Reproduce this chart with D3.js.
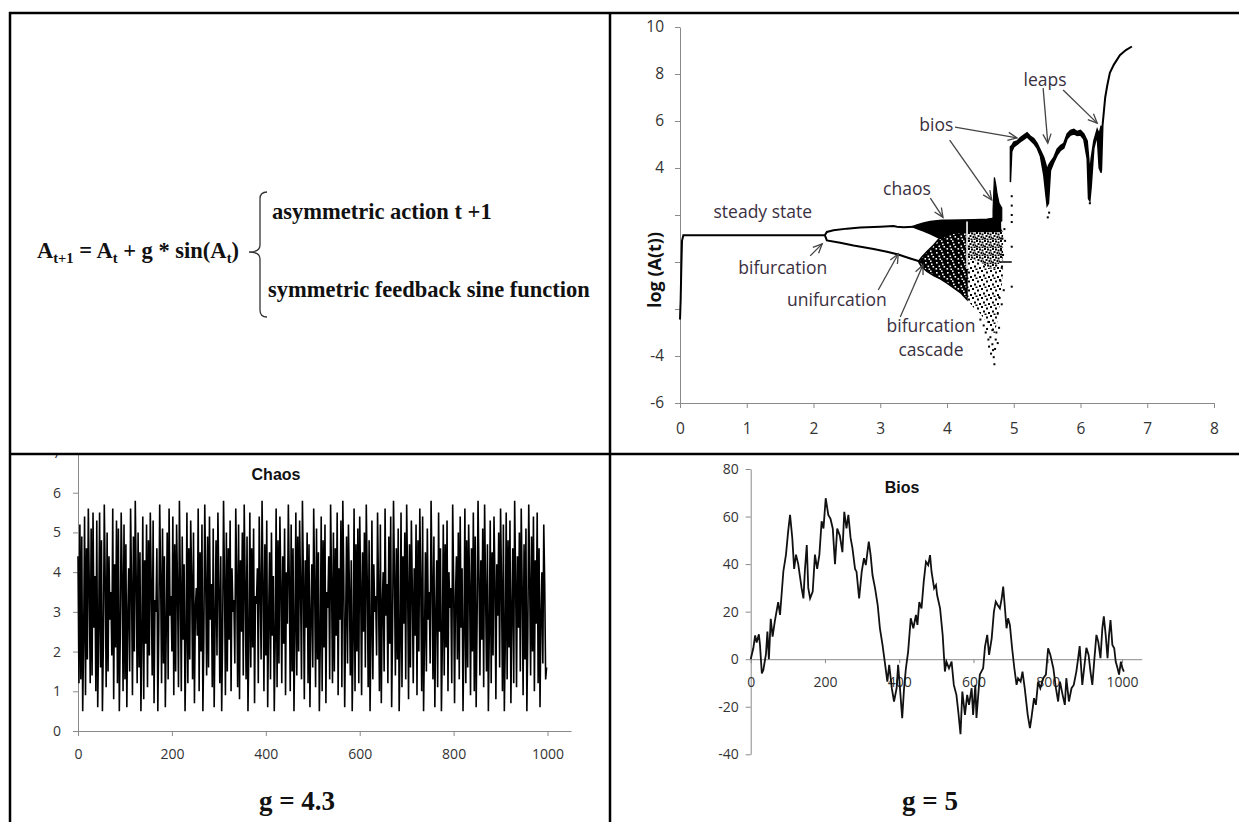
<!DOCTYPE html>
<html>
<head>
<meta charset="utf-8">
<script src="https://cdn.jsdelivr.net/npm/d3@7/dist/d3.min.js"></script>
<style>
  body { margin: 0; background: #fff; }
  .domain, .tick line { stroke: #8a8a8a; }
</style>
</head>
<body>
<div id="chart"></div>
<script>
// ---- bifurcation diagram (log A vs g) ----
var steadyG = [0.0, 0.01, 0.015, 0.02, 0.03, 0.05, 0.6, 1.4, 2.17];
var steadyV = [-2.45, -1.6, -0.9, -0.2, 0.9, 1.14, 1.14, 1.14, 1.14];

var upperG = [2.17, 2.2, 2.3, 2.5, 2.7, 3.0, 3.2, 3.25, 3.35, 3.5];
var upperV = [1.14, 1.28, 1.35, 1.42, 1.47, 1.5, 1.53, 1.5, 1.48, 1.5];

var lowerG = [2.17, 2.2, 2.4, 2.6, 2.9, 3.1, 3.27, 3.45, 3.62];
var lowerV = [1.14, 0.92, 0.82, 0.7, 0.55, 0.44, 0.32, 0.15, 0.0];

// solid upper part of the chaotic band
var bandG  = [3.48, 3.55, 3.65, 3.75, 3.85, 3.92, 4.0, 4.2, 4.4, 4.6, 4.7, 4.8];
var bandHi = [1.5, 1.58, 1.66, 1.72, 1.76, 1.78, 1.78, 1.79, 1.8, 1.82, 1.86, 1.7];
var bandLo = [1.5, 1.42, 1.32, 1.2, 1.06, 0.98, 1.2, 1.25, 1.3, 1.3, 1.3, 1.3];

// speckled lower part
var coreG  = [3.58, 3.62, 3.7, 3.8, 3.9, 4.0, 4.1, 4.2, 4.3];
var coreHi = [0.05, 0.2, 0.45, 0.72, 1.05, 1.3, 1.3, 1.3, 1.3];
var coreLo = [-0.02, -0.2, -0.4, -0.58, -0.72, -0.9, -1.1, -1.3, -1.6];

// tail beyond the window
var tailG  = [4.3, 4.4, 4.5, 4.6, 4.65, 4.7, 4.75, 4.8, 4.84];
var tailHi = [1.3, 1.3, 1.3, 1.3, 1.3, 1.4, 1.5, 1.5, 1.3];
var tailLo = [-1.6, -1.95, -2.2, -2.6, -2.9, -3.2, -2.6, -1.6, -0.5];
var tailMid = [0.2, 0.1, 0.0, -0.2, -0.3, -0.3, -0.2, 0.0, 0.3];

var windowG = [4.3];

var sparseDots = [[4.5,-2.45],[4.55,-2.7],[4.58,-3.0],[4.6,-2.85],[4.62,-3.3],[4.63,-3.6],[4.65,-3.2],
                  [4.66,-3.9],[4.68,-3.5],[4.7,-4.05],[4.71,-4.35],[4.72,-3.7],[4.74,-3.0],[4.76,-2.2],
                  [4.78,-1.5],[4.8,-0.8],[4.82,-0.25],[4.81,0.5],[4.83,1.0],[4.78,-2.8],[4.76,-3.45],
                  [4.82,-1.8],[4.84,0.3],[4.97,2.0],[4.97,1.7],[4.97,2.4],[4.97,0.65],[4.97,-1.05],
                  [4.97,2.8],[4.62,-2.55],[4.68,-2.9],[5.51,1.9],[5.53,2.1],[6.14,2.5],
                  [4.86,1.4],[4.85,-1.2],[4.87,0.9],[4.73,-3.3],[4.69,-3.75]];

var dashG = [4.8, 4.97];
var dashV = [0.0, 0.0];

var spikeG  = [4.69, 4.71, 4.73, 4.75, 4.78, 4.82];
var spikeHi = [2.2, 3.6, 3.3, 2.9, 2.5, 2.3];
var spikeLo = [1.8, 1.8, 1.8, 1.8, 1.7, 1.75];

var biosG  = [4.95, 4.97, 5.0, 5.05, 5.1, 5.15, 5.2, 5.25, 5.3, 5.35, 5.4, 5.45,
              5.48, 5.5, 5.52, 5.55, 5.6, 5.65, 5.7, 5.75, 5.8, 5.85, 5.9, 5.95, 6.0, 6.05, 6.1, 6.12,
              6.14, 6.16, 6.2, 6.25, 6.28, 6.31];
var biosHi = [4.9, 4.95, 5.1, 5.15, 5.3, 5.4, 5.5, 5.35, 5.25, 5.05, 4.75, 4.45,
              4.15, 3.9, 4.1, 4.25, 4.45, 4.8, 4.95, 5.05, 5.45, 5.6, 5.65, 5.55, 5.6, 5.45, 5.15, 4.5,
              3.8, 4.4, 5.15, 5.65, 5.45, 5.8];
var biosLo = [3.4, 4.7, 4.9, 5.0, 5.12, 5.22, 5.32, 5.18, 5.05, 4.85, 4.5, 3.7,
              2.9, 2.4, 2.5, 3.9, 4.25, 4.55, 4.75, 4.85, 5.25, 5.4, 5.45, 5.38, 5.4, 5.22, 4.4, 2.7,
              2.6, 3.2, 4.85, 5.4, 4.0, 3.8];

var leapG = [6.31, 6.33, 6.35, 6.37, 6.4, 6.44, 6.5, 6.59, 6.68, 6.77];
var leapV = [3.9, 5.8, 6.4, 7.0, 7.5, 8.05, 8.4, 8.8, 9.02, 9.17];

var bifXTicks = [0, 1, 2, 3, 4, 5, 6, 7, 8];
var bifYTicks = [-6, -4, -2, 0, 2, 4, 6, 8, 10];
var bifYHidden = [-2, 0, 2];

// ---- chaos series, g = 4.3 (one value every 2 steps) ----
var chaosValues = [
  4.4, 1.2, 5.2, 1.3, 4.9, 0.5, 2.3, 5.4, 0.9, 4.6,
  1.8, 5.6, 3.7, 1.2, 5.1, 1.4, 5.5, 2.6, 3.9, 1.0,
  5.3, 0.6, 2.5, 5.5, 1.6, 4.8, 0.5, 2.2, 5.7, 3.8,
  1.1, 5.0, 1.5, 4.4, 2.8, 3.5, 1.9, 5.6, 0.8, 4.2,
  2.1, 5.3, 1.2, 5.1, 0.5, 2.4, 5.5, 3.9, 1.0, 5.2,
  1.3, 4.7, 0.6, 2.9, 4.1, 1.5, 5.6, 3.7, 0.9, 4.9,
  2.0, 5.8, 3.8, 1.2, 5.0, 1.6, 4.5, 0.5, 2.3, 5.4,
  0.8, 4.3, 2.2, 5.2, 1.1, 4.8, 1.9, 5.5, 3.6, 1.4,
  5.3, 0.7, 3.3, 3.0, 4.6, 0.5, 2.5, 5.7, 3.9, 1.2,
  5.1, 1.7, 4.4, 0.6, 2.6, 5.0, 1.3, 5.6, 2.9, 3.4,
  2.0, 5.4, 0.9, 4.7, 1.5, 5.2, 3.6, 1.1, 5.8, 3.7,
  1.0, 4.9, 2.3, 4.2, 0.5, 2.2, 5.5, 1.2, 4.6, 1.8,
  5.3, 3.9, 1.3, 5.0, 0.7, 3.1, 3.6, 2.4, 5.6, 1.0,
  4.5, 2.0, 5.2, 0.5, 2.3, 5.7, 3.8, 1.4, 4.9, 1.6,
  5.4, 2.8, 3.7, 1.1, 5.1, 0.6, 2.7, 4.8, 1.9, 5.5,
  3.6, 1.2, 4.4, 0.5, 2.4, 5.8, 3.8, 0.9, 5.0, 1.5,
  4.6, 2.3, 5.3, 1.0, 4.1, 3.0, 3.3, 1.7, 5.6, 3.9,
  1.1, 5.2, 0.8, 4.3, 2.5, 5.0, 1.4, 5.7, 3.7, 1.3,
  4.9, 0.5, 2.2, 5.5, 1.6, 4.6, 2.1, 5.1, 0.7, 3.4,
  3.2, 4.1, 1.2, 5.4, 3.6, 1.8, 5.8, 3.8, 1.0, 4.7,
  1.9, 5.3, 0.6, 2.8, 4.5, 1.3, 5.0, 2.4, 3.9, 0.5,
  2.3, 5.6, 1.1, 4.8, 1.7, 5.4, 3.7, 1.2, 4.4, 2.2,
  5.1, 0.9, 4.0, 2.7, 5.7, 3.8, 1.0, 5.2, 1.5, 4.6,
  0.5, 2.5, 5.5, 1.4, 4.9, 2.0, 5.3, 3.6, 1.3, 5.8,
  3.9, 0.8, 4.3, 2.6, 5.0, 1.2, 4.7, 0.6, 2.9, 4.2,
  1.6, 5.6, 3.7, 1.1, 5.1, 1.8, 4.5, 0.5, 2.2, 5.4,
  1.0, 4.8, 2.1, 5.2, 0.7, 3.5, 3.1, 4.4, 1.3, 5.7,
  3.8, 1.2, 5.0, 1.5, 4.6, 2.4, 5.5, 0.9, 4.1, 2.8,
  5.3, 1.1, 5.8, 3.9, 0.6, 2.7, 4.9, 1.7, 5.2, 3.6,
  1.4, 4.3, 0.5, 2.3, 5.6, 1.0, 4.7, 2.0, 5.1, 1.2,
  5.4, 3.7, 0.9, 4.5, 2.5, 5.0, 1.6, 5.7, 3.8, 1.1,
  4.8, 0.5, 2.4, 5.3, 1.3, 4.2, 3.0, 3.4, 1.9, 5.5,
  3.6, 1.0, 5.2, 0.7, 3.2, 4.0, 1.5, 5.6, 2.9, 3.7,
  1.2, 4.9, 2.2, 5.4, 0.6, 2.6, 5.8, 3.9, 1.4, 4.6,
  1.8, 5.1, 0.5, 2.1, 5.5, 1.1, 4.4, 2.7, 5.0, 1.3,
  5.7, 3.8, 0.8, 4.7, 1.6, 5.3, 3.6, 1.2, 4.1, 2.4,
  5.2, 0.9, 4.8, 2.0, 5.6, 3.7, 1.0, 5.4, 0.5, 2.3,
  4.5, 1.5, 5.1, 2.8, 3.5, 1.7, 5.8, 3.9, 1.3, 4.9,
  0.6, 2.9, 4.3, 1.1, 5.5, 2.5, 4.6, 0.5, 2.2, 5.2,
  1.4, 4.7, 2.1, 5.3, 1.0, 4.0, 3.1, 3.6, 1.2, 5.7,
  3.8, 0.7, 3.4, 4.4, 1.8, 5.0, 1.3, 5.4, 2.6, 4.1,
  0.5, 2.4, 5.6, 1.2, 4.8, 1.6, 5.2, 3.7, 0.9, 4.6,
  2.0, 5.5, 1.0, 4.9, 0.6, 2.8, 5.8, 3.9, 1.4, 4.3,
  2.3, 5.1, 1.1, 5.7, 3.6, 1.5, 4.7, 0.5, 2.5, 5.3,
  1.2, 4.5, 1.9, 5.4, 3.8, 0.8, 4.2, 2.9, 5.0, 1.6,
  5.6, 3.7, 1.0, 5.2, 0.5, 2.2, 5.5, 1.3, 4.8, 2.1,
  5.3, 0.7, 3.0, 4.6, 1.2, 5.8, 3.9, 1.1, 4.4, 2.6,
  5.0, 1.5, 5.6, 3.6, 0.9, 4.7, 1.8, 5.1, 0.5, 2.4,
  5.7, 3.8, 1.4, 4.9, 2.0, 5.4, 1.0, 4.3, 2.7, 5.5,
  1.2, 4.6, 0.6, 2.9, 4.0, 1.7, 5.2, 3.7, 1.3, 1.6
];
var chaosStep = 2;
var chaosXTicks = [0, 200, 400, 600, 800, 1000];
var chaosYTicks = [0, 1, 2, 3, 4, 5, 6, 7];

// ---- bios series, g = 5 ----
var biosT = [0, 7, 12, 16, 22, 25, 30, 34, 41, 45, 49, 54, 59, 65, 74, 79, 88, 95, 101, 106,
             112, 117, 122, 128, 137, 142, 146, 151, 155, 160, 167, 173, 179, 185, 191, 196, 202, 209, 215, 221,
             227, 233, 240, 247, 252, 258, 263, 269, 274, 281, 285, 292, 299, 305, 310, 318, 323, 328, 335, 342,
             348, 355, 361, 368, 373, 380, 386, 393, 397, 402, 408, 413, 418, 424, 431, 438, 445, 449, 454, 460,
             466, 472, 478, 483, 487, 494, 499, 502, 510, 517, 523, 527, 534, 541, 547, 554, 559, 565, 570, 577,
             583, 588, 595, 599, 605, 608, 617, 626, 631, 637, 642, 649, 655, 660, 665, 671, 676, 680, 684, 689,
             693, 698, 704, 710, 716, 720, 727, 732, 738, 746, 752, 756, 763, 768, 774, 780, 788, 795, 801, 807,
             815, 822, 828, 833, 840, 846, 850, 857, 864, 870, 877, 882, 886, 893, 898, 904, 910, 915, 920, 925,
             931, 936, 942, 947, 951, 956, 961, 965, 969, 974, 979, 983, 988, 992, 997, 1001, 1005];
var biosA = [0, 4.6, 10, 7, 10.5, 6, -6, -4.5, 2, 11.6, 0, 17, 9.5, 16, 24, 18.6, 37, 44, 54, 60.7,
             51, 38, 44, 40, 30, 25.6, 37.5, 48, 30, 25.6, 28.4, 44, 38, 44, 58, 55, 67.7, 60.7, 59, 55,
             40, 55, 52, 45, 62, 55, 60.7, 51, 46.7, 38, 36.8, 25.6, 36.8, 42.5, 39.6, 49.5, 43.8, 35.4, 29.8, 22.8,
             13, 6, -1, -9.4, -2.4, -12.2, -17.8, -12.2, -2.4, -12.2, -24.8, -12.2, -3.8, 3.2, 17.2, 13, 18.6, 14.4, 24, 21.4,
             32.6, 41, 39.6, 43.8, 36.8, 29.8, 31.2, 27, 21.4, 10.2, -5.2, -1, -3.8, -1, -10.8, -15, -22, -31.5, -13.6, -23.4,
             -15, -19.2, -12.2, -23.4, -10.8, -24.7, -6.5, -3.8, 5.3, 10.2, 1.8, 8.8, 20, 24.2, 22.8, 21.4, 25.6, 30.5, 22.8, 13,
             17.2, 14.4, 4.6, -3.8, -10.8, -8, -9.4, -5.2, -12.2, -23.4, -29, -24.8, -16.4, -19.2, -9.4, -12.2, -8, -6.5, 4.6, 1.8,
             -3.8, -12.2, -17.8, -9.4, -15, -19.2, -8, -17.8, -12.2, -10.8, -5.2, 0.6, 5.5, -10.8, -3.8, 4.8, 1.8, -5.2, -10.8, -1,
             10.2, 7.4, 0.4, 13, 18, 10.2, 0.4, 10.2, 16.5, 6, 4.6, -1, -3.8, -6.5, -1, -3.8, -5.2];
var biosXTicks = [0, 200, 400, 600, 800, 1000];
var biosYTicks = [-40, -20, 0, 20, 40, 60, 80];

var W = 1239, H = 822;
var svg = d3.select("#chart").append("svg")
    .attr("width", W)
    .attr("height", H)
    .style("display", "block");
svg.append("rect").attr("width", W).attr("height", H).attr("fill", "#fff");

var defs = svg.append("defs");
// black with white specks
var pd = defs.append("pattern").attr("id", "speckDense").attr("patternUnits", "userSpaceOnUse")
    .attr("width", 11).attr("height", 10);
pd.append("rect").attr("width", 11).attr("height", 10).attr("fill", "#000");
[[1,2],[6,0.5],[3.5,5.5],[8.5,6],[0.5,8],[7,3.5],[4.5,8.5]].forEach(function(p) {
  pd.append("rect").attr("x", p[0]).attr("y", p[1]).attr("width", 1.6).attr("height", 1.6).attr("fill", "#fff");
});
// mixed black / white
var pm = defs.append("pattern").attr("id", "speckMid").attr("patternUnits", "userSpaceOnUse")
    .attr("width", 8).attr("height", 8);
pm.append("rect").attr("width", 8).attr("height", 8).attr("fill", "#fff");
[[0,0],[3,0.5],[5.5,1.5],[1.5,3],[4.5,4],[7,4.5],[0,5.5],[2.5,6.5],[5.5,6.5]].forEach(function(p) {
  pm.append("rect").attr("x", p[0]).attr("y", p[1]).attr("width", 2).attr("height", 2).attr("fill", "#000");
});
// white with black dots
var ps = defs.append("pattern").attr("id", "speckSparse").attr("patternUnits", "userSpaceOnUse")
    .attr("width", 9).attr("height", 9);
ps.append("rect").attr("width", 9).attr("height", 9).attr("fill", "#fff");
[[0,0],[5,1.5],[2,4.5],[7,6],[3.5,7.5]].forEach(function(p) {
  ps.append("rect").attr("x", p[0]).attr("y", p[1]).attr("width", 2).attr("height", 2).attr("fill", "#000");
});

function styleTicks(g, size) {
  g.selectAll(".tick text")
    .attr("font-family", "'Open Sans', sans-serif")
    .attr("font-size", size)
    .attr("fill", "#333");
}
var plain = function(d) { return String(d); };

// ================= top left: the formula =================
var tl = svg.append("g")
    .attr("font-family", "'Liberation Serif', 'Times New Roman', serif")
    .attr("font-weight", "bold")
    .attr("fill", "#111");

var f = tl.append("text").attr("x", 37).attr("y", 258).attr("font-size", 22.5);
f.append("tspan").text("A");
f.append("tspan").attr("dy", 5).attr("font-size", 14.5).text("t+1");
f.append("tspan").attr("dy", -5).text(" = A");
f.append("tspan").attr("dy", 5).attr("font-size", 14.5).text("t");
f.append("tspan").attr("dy", -5).text(" + g * sin(A");
f.append("tspan").attr("dy", 5).attr("font-size", 14.5).text("t");
f.append("tspan").attr("dy", -5).text(")");

tl.append("text").attr("x", 272).attr("y", 219).attr("font-size", 22.5).text("asymmetric action t +1");
tl.append("text").attr("x", 268).attr("y", 297).attr("font-size", 22.5).text("symmetric feedback sine function");

tl.append("path")
    .attr("d", "M267,192 Q260,192 260,199 L260,245 Q260,252 249,252 Q260,252 260,259 L260,310 Q260,317 267,317")
    .attr("fill", "none")
    .attr("stroke", "#333")
    .attr("stroke-width", 1.3);

// ================= top right: bifurcation diagram =================
var xB = d3.scaleLinear().domain([0, 8]).range([680, 1214]);
var yB = d3.scaleLinear().domain([-6, 10]).range([403, 27]);
var tr = svg.append("g");

tr.append("g")
    .attr("transform", "translate(680,0)")
    .call(d3.axisLeft(yB).tickValues(bifYTicks).tickSize(5).tickSizeOuter(0).tickPadding(11)
        .tickFormat(function(d) { return bifYHidden.indexOf(d) >= 0 ? "" : String(d); }))
    .call(styleTicks, 15.5);
tr.append("g")
    .attr("transform", "translate(0,403)")
    .call(d3.axisBottom(xB).tickValues(bifXTicks).tickSize(5).tickSizeOuter(0).tickPadding(15)
        .tickFormat(plain))
    .call(styleTicks, 15.5);

tr.append("text")
    .attr("transform", "translate(661,270) rotate(-90)")
    .attr("text-anchor", "middle")
    .attr("font-family", "'Open Sans', sans-serif")
    .attr("font-weight", "bold")
    .attr("font-size", 18)
    .attr("fill", "#111")
    .text("log (A(t))");

var lineB = d3.line().x(function(d) { return xB(d[0]); }).y(function(d) { return yB(d[1]); });
function pairs(a, b) { return a.map(function(v, i) { return [v, b[i]]; }); }
function band(g, hi, lo) { return g.map(function(v, i) { return [v, hi[i], lo[i]]; }); }
var areaB = d3.area()
    .x(function(d) { return xB(d[0]); })
    .y0(function(d) { return yB(d[2]); })
    .y1(function(d) { return yB(d[1]); });

tr.append("path").datum(band(tailG, tailMid, tailLo))
    .attr("d", areaB).attr("fill", "url(#speckSparse)");
tr.append("path").datum(band(tailG, tailHi, tailMid))
    .attr("d", areaB).attr("fill", "url(#speckMid)");
tr.append("path").datum(band(coreG, coreHi, coreLo))
    .attr("d", areaB).attr("fill", "url(#speckDense)").attr("stroke", "#000").attr("stroke-width", 1.5);
tr.append("path").datum(band(bandG, bandHi, bandLo))
    .attr("d", areaB).attr("fill", "#000").attr("stroke", "#000").attr("stroke-width", 1.5);
// periodic window
tr.selectAll("line.window").data(windowG).enter().append("line")
    .attr("x1", function(d) { return xB(d); }).attr("x2", function(d) { return xB(d); })
    .attr("y1", yB(1.72)).attr("y2", yB(-0.3))
    .attr("stroke", "#fff").attr("stroke-width", 1.6);

tr.append("path").datum(pairs(steadyG, steadyV)).attr("d", lineB)
    .attr("fill", "none").attr("stroke", "#000").attr("stroke-width", 2);
tr.append("path").datum(pairs(upperG, upperV)).attr("d", lineB)
    .attr("fill", "none").attr("stroke", "#000").attr("stroke-width", 2);
tr.append("path").datum(pairs(lowerG, lowerV)).attr("d", lineB)
    .attr("fill", "none").attr("stroke", "#000").attr("stroke-width", 2);
tr.append("path").datum(pairs(dashG, dashV)).attr("d", lineB)
    .attr("fill", "none").attr("stroke", "#000").attr("stroke-width", 1.5);

tr.selectAll("rect.dot").data(sparseDots).enter().append("rect")
    .attr("class", "dot")
    .attr("x", function(d) { return xB(d[0]) - 1; })
    .attr("y", function(d) { return yB(d[1]) - 1; })
    .attr("width", 2).attr("height", 2)
    .attr("fill", "#000");

tr.append("path").datum(band(spikeG, spikeHi, spikeLo))
    .attr("d", areaB).attr("fill", "#000").attr("stroke", "#000").attr("stroke-width", 1.2);
tr.append("path").datum(band(biosG, biosHi, biosLo))
    .attr("d", areaB).attr("fill", "#000").attr("stroke", "#000").attr("stroke-width", 1.5);
tr.append("path").datum(pairs(leapG, leapV)).attr("d", lineB)
    .attr("fill", "none").attr("stroke", "#000").attr("stroke-width", 2);

// annotations
var notes = [
  {t: ["steady state"], g: 1.24, v: 2.13, arrows: []},
  {t: ["bifurcation"], g: 1.54, v: -0.26, arrows: [[1.95, 0.26, 2.13, 0.77]]},
  {t: ["unifurcation"], g: 2.35, v: -1.62, arrows: [[2.97, -1.19, 3.27, 0.34]]},
  {t: ["bifurcation", "cascade"], g: 3.76, v: -2.72, arrows: [[3.3, -2.34, 3.64, -0.13]]},
  {t: ["chaos"], g: 3.4, v: 3.11, arrows: [[3.75, 2.72, 3.94, 1.9]]},
  {t: ["bios"], g: 3.84, v: 5.83, arrows: [[4.12, 5.74, 5.05, 5.28], [4.04, 5.19, 4.67, 2.64]]},
  {t: ["leaps"], g: 5.47, v: 7.74, arrows: [[5.44, 7.4, 5.51, 5.06], [5.74, 7.32, 6.25, 5.91]]}
];

notes.forEach(function(n) {
  n.t.forEach(function(line, i) {
    tr.append("text")
      .attr("x", xB(n.g))
      .attr("y", yB(n.v) + i * 24 + 6)
      .attr("text-anchor", "middle")
      .attr("font-family", "'Open Sans', sans-serif")
      .attr("font-size", 17.5)
      .attr("fill", "#3a3040")
      .text(line);
  });
  n.arrows.forEach(function(a) {
    var x1 = xB(a[0]), y1 = yB(a[1]), x2 = xB(a[2]), y2 = yB(a[3]);
    var ang = Math.atan2(y2 - y1, x2 - x1), L = 10, s = 0.42;
    tr.append("line").attr("x1", x1).attr("y1", y1).attr("x2", x2).attr("y2", y2)
      .attr("stroke", "#444").attr("stroke-width", 1.3);
    tr.append("path")
      .attr("d", "M" + (x2 - L * Math.cos(ang - s)) + "," + (y2 - L * Math.sin(ang - s)) +
                 "L" + x2 + "," + y2 +
                 "L" + (x2 - L * Math.cos(ang + s)) + "," + (y2 - L * Math.sin(ang + s)))
      .attr("fill", "none").attr("stroke", "#444").attr("stroke-width", 1.3);
  });
});

// ================= bottom left: chaos =================
defs.append("clipPath").attr("id", "bottomClip")
  .append("rect").attr("x", 0).attr("y", 455).attr("width", W).attr("height", H - 455);

var bl = svg.append("g").attr("clip-path", "url(#bottomClip)");
var xC = d3.scaleLinear().domain([0, 1050]).range([78, 571]);
var yC = d3.scaleLinear().domain([0, 7]).range([731, 453]);

bl.append("g").attr("transform", "translate(78,0)")
  .call(d3.axisLeft(yC).tickValues(chaosYTicks).tickSize(5).tickSizeOuter(0).tickPadding(12)
      .tickFormat(plain))
  .call(styleTicks, 14);
bl.append("g").attr("transform", "translate(0,731)")
  .call(d3.axisBottom(xC).tickValues(chaosXTicks).tickSize(5).tickSizeOuter(0).tickPadding(13)
      .tickFormat(plain))
  .call(styleTicks, 14);

bl.append("path")
  .datum(chaosValues)
  .attr("d", d3.line().x(function(d, i) { return xC(i * chaosStep); }).y(function(d) { return yC(d); }))
  .attr("fill", "none").attr("stroke", "#000").attr("stroke-width", 1.6);

bl.append("text").attr("x", 276).attr("y", 480).attr("text-anchor", "middle")
  .attr("font-family", "'Liberation Sans', Arial, sans-serif").attr("font-weight", "bold")
  .attr("font-size", 16).attr("fill", "#111").text("Chaos");

bl.append("text").attr("x", 297).attr("y", 810).attr("text-anchor", "middle")
  .attr("font-family", "'Liberation Serif', 'Times New Roman', serif").attr("font-weight", "bold")
  .attr("font-size", 27).attr("fill", "#111").text("g = 4.3");

// ================= bottom right: bios =================
var br = svg.append("g").attr("clip-path", "url(#bottomClip)");
var xS = d3.scaleLinear().domain([0, 1053]).range([750.7, 1141.7]);
var yS = d3.scaleLinear().domain([-40, 80]).range([754.3, 469]);

br.append("g").attr("transform", "translate(750.7,0)")
  .call(d3.axisLeft(yS).tickValues(biosYTicks).tickSize(5).tickSizeOuter(0).tickPadding(7)
      .tickFormat(plain))
  .call(styleTicks, 14);
br.append("g").attr("transform", "translate(0," + yS(0) + ")")
  .call(d3.axisBottom(xS).tickValues(biosXTicks).tickSize(4).tickSizeOuter(0).tickPadding(14)
      .tickFormat(plain))
  .call(styleTicks, 14);

br.append("path")
  .datum(pairs(biosT, biosA))
  .attr("d", d3.line().x(function(d) { return xS(d[0]); }).y(function(d) { return yS(d[1]); }))
  .attr("fill", "none").attr("stroke", "#111").attr("stroke-width", 1.8);

br.append("text").attr("x", 902).attr("y", 493).attr("text-anchor", "middle")
  .attr("font-family", "'Liberation Sans', Arial, sans-serif").attr("font-weight", "bold")
  .attr("font-size", 16).attr("fill", "#111").text("Bios");

br.append("text").attr("x", 930).attr("y", 810).attr("text-anchor", "middle")
  .attr("font-family", "'Liberation Serif', 'Times New Roman', serif").attr("font-weight", "bold")
  .attr("font-size", 27).attr("fill", "#111").text("g = 5");

// ================= table borders =================
var borders = svg.append("g").attr("stroke", "#000").attr("stroke-width", 2.5);
borders.append("line").attr("x1", 9).attr("x2", W).attr("y1", 13).attr("y2", 13);
borders.append("line").attr("x1", 10).attr("x2", 10).attr("y1", 12).attr("y2", H);
borders.append("line").attr("x1", 610).attr("x2", 610).attr("y1", 12).attr("y2", H);
borders.append("line").attr("x1", 9).attr("x2", W).attr("y1", 454).attr("y2", 454);
</script>
</body>
</html>
